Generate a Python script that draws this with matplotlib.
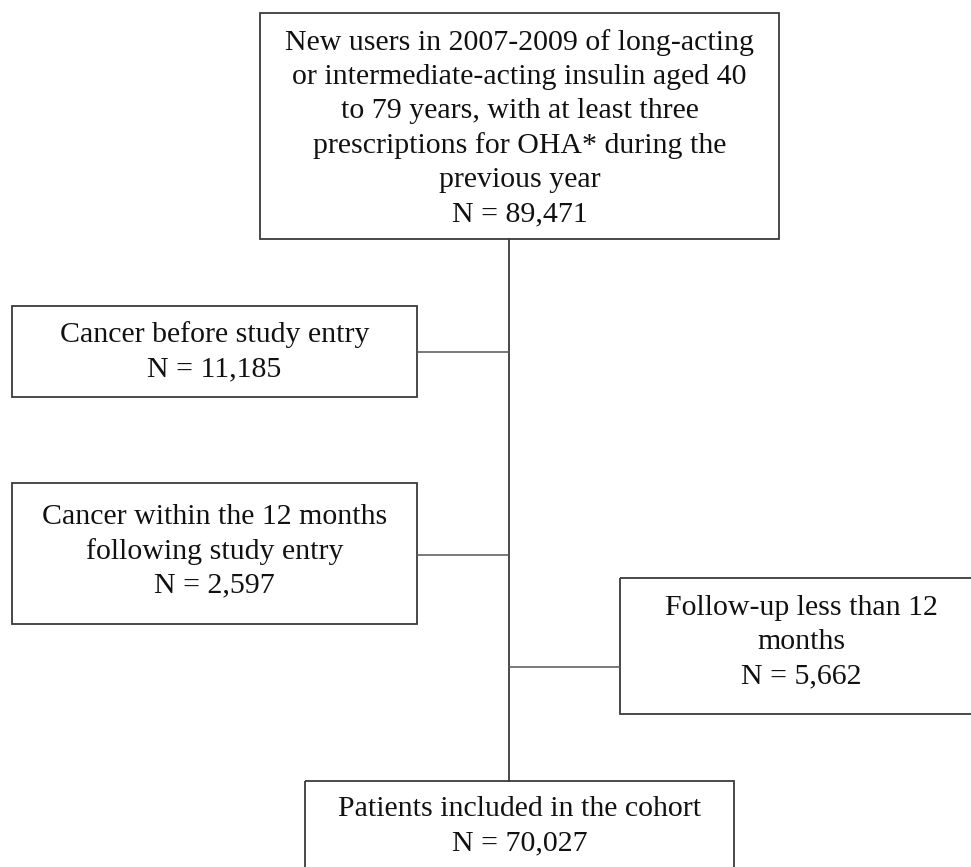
import matplotlib.pyplot as plt
from matplotlib.patches import Rectangle

# flowchart content
labels = [
    "New users in 2007-2009 of long-acting\nor intermediate-acting insulin aged 40\nto 79 years, with at least three\nprescriptions for OHA* during the\nprevious year",
    "Cancer before study entry",
    "Cancer within the 12 months\nfollowing study entry",
    "Follow-up less than 12\nmonths",
    "Patients included in the cohort",
]
counts = [89471, 11185, 2597, 5662, 70027]

# box geometry in pixels: left, top, right, bottom
boxes = [
    (260, 13, 779, 239),
    (12, 306, 417, 397),
    (12, 483, 417, 624),
    (620, 578, 982, 714),
    (305, 781, 734, 880),
]
# first text line (pixel y) for each box
text_top = [43, 335, 517, 608, 809]
line_step = 34.2
spine_x = 509
branch_y = [352, 555, 667]
branch_box = [1, 2, 3]

fig = plt.figure(figsize=(9.71, 8.67), dpi=100)
ax = fig.add_axes([0, 0, 1, 1])
ax.set_xlim(0, 971)
ax.set_ylim(867, 0)
ax.axis("off")

for i, (l, t, r, b) in enumerate(boxes):
    ax.add_patch(Rectangle((l, t), r - l, b - t, fill=False,
                           edgecolor="#3a3a3a", linewidth=1.3))
    lines = labels[i].split("\n") + ["N = {:,}".format(counts[i])]
    cx = (l + r) / 2
    for k, s in enumerate(lines):
        ax.text(cx, text_top[i] + k * line_step, s, ha="center", va="center",
                fontsize=21.5, family="Liberation Serif", color="#111111")

# vertical spine
ax.plot([spine_x, spine_x], [boxes[0][3], boxes[4][1]], color="#3a3a3a", lw=1.3)

# branches to exclusion boxes
for y, bi in zip(branch_y, branch_box):
    l, t, r, b = boxes[bi]
    x_edge = r if r < spine_x else l
    ax.plot([spine_x, x_edge], [y, y], color="#555555", lw=1.1)

plt.savefig("out.png", dpi=100)
